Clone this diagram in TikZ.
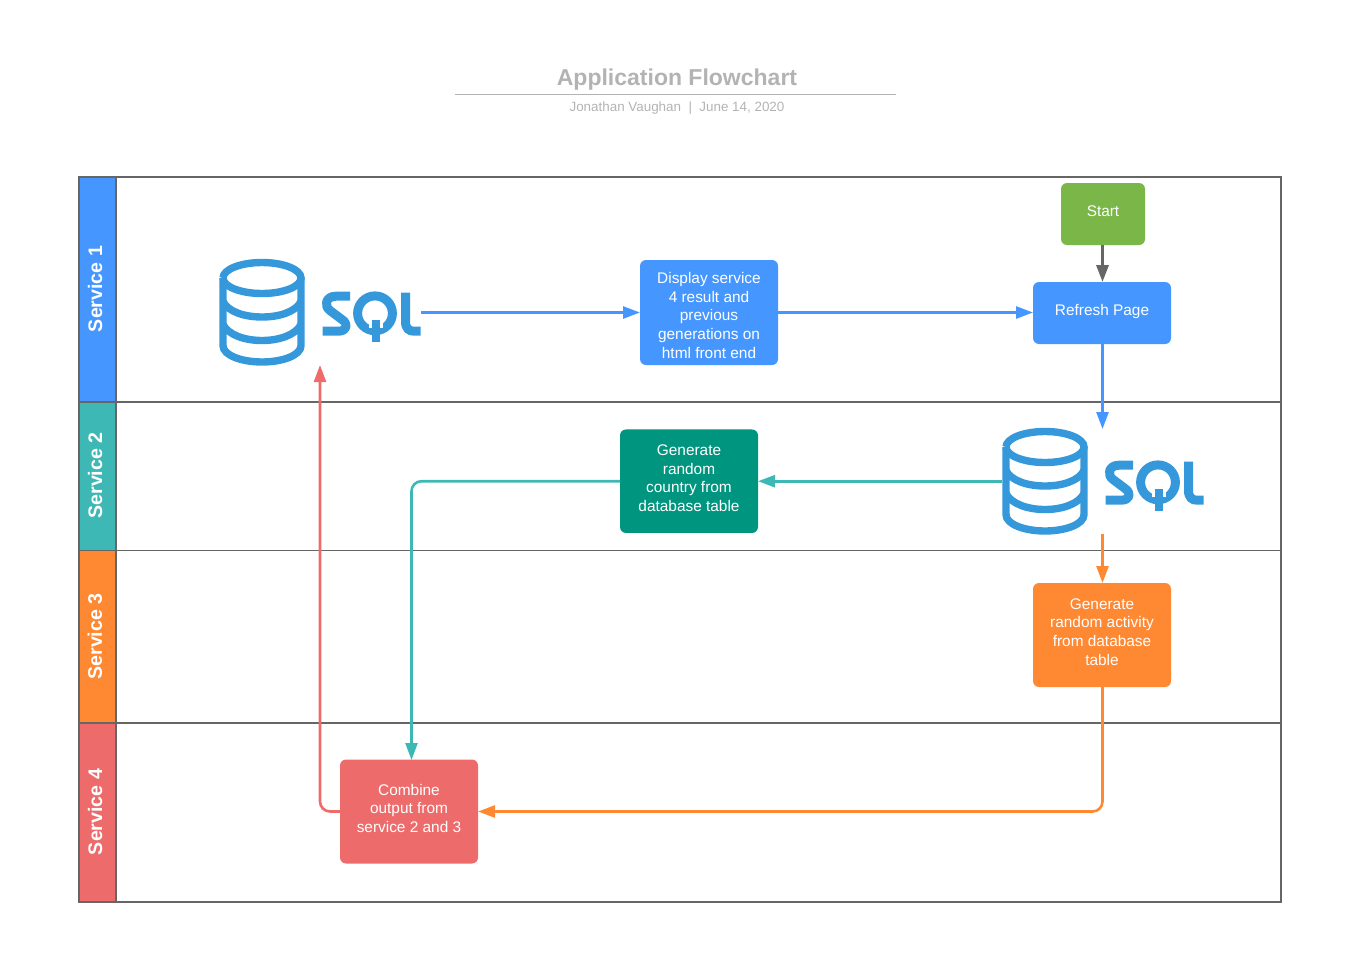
\documentclass[tikz,border=0pt]{standalone}
\usepackage{fontspec}
\setmainfont{Liberation Sans}
\usetikzlibrary{arrows.meta}
\definecolor{cblue}{HTML}{4596FF}
\definecolor{cteal}{HTML}{3EB8B5}
\definecolor{cdteal}{HTML}{00957F}
\definecolor{corange}{HTML}{FF8833}
\definecolor{cred}{HTML}{ED6B6B}
\definecolor{cgreen}{HTML}{7AB648}
\definecolor{csql}{HTML}{3498DB}
\definecolor{cgrey}{HTML}{666666}
\definecolor{ctitle}{HTML}{B3B3B3}
\newcommand{\upthree}{\\[-12.5pt]}
\tikzset{
  every node/.style={inner sep=0pt,outer sep=0pt},
  lane/.style={draw=cgrey,line width=1.15pt},
  lanediv/.style={draw=cgrey},
  lanelabel/.style={rotate=90,text=white,font=\fontsize{19.6}{22}\selectfont\bfseries},
  procbox/.style={rounded corners=6pt,text=white,align=center,minimum width=138pt,minimum height=#1,
     font=\fontsize{15.4}{18.7}\selectfont},
  conn/.style={line width=2.6pt,-{Triangle[length=17pt,width=12pt]},rounded corners=10pt},
  sqlstroke/.style={draw=csql,line width=7.4pt},
  sqlletter/.style={draw=csql,line width=9pt},
  logo/.style={minimum width=202pt,minimum height=107pt},
  pics/sqllogo/.style={code={
    % cylinder
    \draw[sqlstroke] (-39,-34.5) arc[start angle=180,end angle=-180,x radius=39,y radius=15.5];
    \draw[sqlstroke] (-39,-34.5) -- (-39,33) .. controls (-39,43) and (-20,49.5) .. (0,49.5) .. controls (20,49.5) and (39,43) .. (39,33) -- (39,-34.5);
    \draw[sqlstroke] (-39,-11) .. controls (-34,-1) and (-18,4.5) .. (0,4.5) .. controls (18,4.5) and (34,-1) .. (39,-11);
    \draw[sqlstroke] (-39,12) .. controls (-34,22) and (-18,28) .. (0,28) .. controls (18,28) and (34,22) .. (39,12);
    % S
    \draw[sqlletter,line join=round] (88,-16.3) -- (74,-16.3) .. controls (63,-16.3) and (62,-6) .. (68,-2) -- (80,7) .. controls (87,12) and (85,18.7) .. (76,18.7) -- (60.7,18.7);
    % Q
    \draw[sqlletter] (113,0.8) circle[radius=17.4];
    \fill[white] (107,8) rectangle (121,15);
    \fill[csql] (110,7.5) rectangle (118,29);
    % L
    \draw[sqlletter] (143.5,-20) -- (143.5,9) .. controls (143.5,16) and (147,18.7) .. (152,18.7) -- (158.7,18.7);
  }}
}
\begin{document}
\begin{tikzpicture}[x=1pt,y=-1pt]
\useasboundingbox (0,0) rectangle (1357,964);
% title
\node (title) at (677,80) {\textcolor{ctitle}{\fontsize{23}{25}\selectfont\bfseries Application Flowchart}};
\coordinate (ruleL) at (455,94.5);
\coordinate (ruleR) at (896,94.5);
\draw[ctitle,line width=0.8pt] (ruleL) -- (ruleR);
\node (sub) at (677,108) {\textcolor{ctitle}{\fontsize{13.4}{15}\selectfont Jonathan Vaughan~~|~~June 14, 2020}};
% lane headers
\fill[cblue] (79,177) rectangle (116,402);
\fill[cteal] (79,402) rectangle (116,550);
\fill[corange] (79,550) rectangle (116,723);
\fill[cred] (79,723) rectangle (116,902);
\draw[lane] (79,177) rectangle (1281,902);
\draw[lane,line width=1.8pt] (79,177) -- (79,902) (116,177) -- (116,902);
\draw[lane,line width=1.7pt] (79,402) -- (1281,402);
\draw[lanediv] (79,550.5) -- (1281,550.5);
\draw[lane,line width=1.7pt] (79,723) -- (1281,723);
\node[lanelabel] (l1) at (95,289) {Service 1};
\node[lanelabel] (l2) at (95,475.5) {Service 2};
\node[lanelabel] (l3) at (95,636.5) {Service 3};
\node[lanelabel] (l4) at (95,812) {Service 4};
% logos
\node[logo] (sqlA) at (320,312.5) {};
\node[logo] (sqlB) at (1103,481.5) {};
\pic at (262,312.5) {sqllogo};
\pic at (1045,481.5) {sqllogo};
% boxes
\node[procbox=62pt,fill=cgreen,minimum width=84pt] (start) at (1103,214) {Start\upthree};
\node[procbox=62pt,fill=cblue] (refresh) at (1102,313) {Refresh Page\upthree};
\node[procbox=105pt,fill=cblue] (display) at (709,312.5) {\raisebox{-6.4pt}[0pt][0pt]{\parbox{138pt}{\centering Display service\\4 result and\\previous\\generations on\\html front end}}};
\node[procbox=103.5pt,fill=cdteal] (country) at (689,481.2) {Generate\\random\\country from\\database table\upthree};
\node[procbox=104pt,fill=corange] (activity) at (1102,635) {Generate\\random activity\\from database\\table\upthree};
\node[procbox=104pt,fill=cred] (combine) at (409,811.5) {Combine\\output from\\service 2 and 3\upthree};
% connector free ends
\coordinate (sqlAin) at (320,365);
\coordinate (combineTop) at (411.5,760);
\coordinate (refreshIn) at (1102.5,429);
\coordinate (activityOut) at (1102.5,534);
% connectors
\draw[conn,cgrey,line width=3.2pt] (start.south -| refreshIn) -- (refresh.north -| refreshIn);
\draw[conn,cblue] (refresh.south -| refreshIn) -- (refreshIn);
\draw[conn,cblue] (sqlA.east) -- (display.west);
\draw[conn,cblue] (display.east) -- (refresh.west |- display.east);
\draw[conn,cteal] (sqlB.west |- country.east) -- (country.east);
\draw[conn,cteal] (country.west) -| (combineTop);
\draw[conn,corange] (activityOut) -- (activity.north -| activityOut);
\draw[conn,corange] (activity.south -| activityOut) |- (combine.east);
\draw[conn,cred] (combine.west) -| (sqlAin);
\end{tikzpicture}
\end{document}
